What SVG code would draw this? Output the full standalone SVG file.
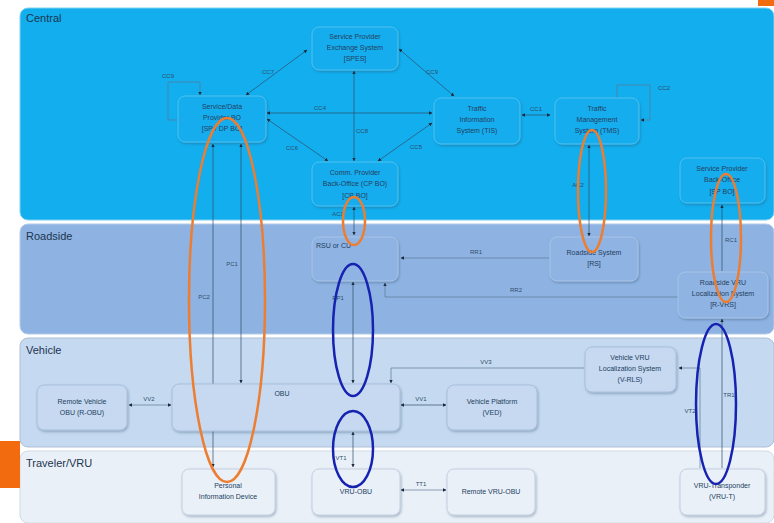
<svg xmlns="http://www.w3.org/2000/svg" width="774" height="523" viewBox="0 0 774 523">
<defs>
<marker id="ah" viewBox="0 0 6 6" refX="5.5" refY="3" markerWidth="5" markerHeight="5" orient="auto-start-reverse"><path d="M0,0 L6,3 L0,6 z" fill="#1b2a3a"/></marker>
<filter id="sh" x="-10%" y="-10%" width="125%" height="130%"><feDropShadow dx="1" dy="1.5" stdDeviation="1" flood-color="#2b4a6a" flood-opacity="0.35"/></filter>
</defs>
<style>
.band-t{font-family:"Liberation Sans",Arial,sans-serif;font-size:11px;fill:#1d3550}
.n{stroke-width:1;filter:url(#sh)}
.c .n{fill:#13adee;stroke:#4fc2f0}
.r .n{fill:#8fb3e2;stroke:#a9c4e8}
.v .n{fill:#c6d9f0;stroke:#a8bfdc}
.t .n{fill:#eaf0f8;stroke:#c3d0e1}
.nt{font-family:"Liberation Sans",Arial,sans-serif;font-size:7px;fill:#23405e;text-anchor:middle}
.cn{fill:none;stroke:#2f4d6b;stroke-width:0.7}
.cnl{fill:none;stroke:#5d7896;stroke-width:0.7}
.lb{font-family:"Liberation Sans",Arial,sans-serif;font-size:6px;fill:#2f4d6b;text-anchor:middle}
.eo{fill:none;stroke:#ed7d31;stroke-width:2.5}
.eb{fill:none;stroke:#1623b0;stroke-width:2.5}
</style>
<rect width="774" height="523" fill="#ffffff"/>
<rect x="758" y="0" width="16" height="6" fill="#f26b0f"/>
<!-- bands -->
<g id="band-central"><rect x="20" y="8" width="754" height="212" rx="8" fill="#12aeee" stroke="#7fd0f2" stroke-width="1"/><text class="band-t" x="26" y="22">Central</text></g>
<g id="band-roadside"><rect x="20" y="224" width="754" height="110" rx="8" fill="#8eb3e2" stroke="#b5cbe9" stroke-width="1"/><text class="band-t" x="26" y="240">Roadside</text></g>
<g id="band-vehicle"><rect x="20" y="338" width="754" height="109" rx="8" fill="#c5d9f0" stroke="#aebfd6" stroke-width="1"/><text class="band-t" x="26" y="354">Vehicle</text></g>
<g id="band-traveler"><rect x="20" y="451" width="754" height="72" rx="8" fill="#eaf0f8" stroke="#d0dae6" stroke-width="1"/><text class="band-t" x="26" y="467">Traveler/VRU</text></g>
<rect x="0" y="441" width="20" height="47" fill="#f26b0f"/>

<!-- connectors -->
<g id="connectors">
<path class="cn" d="M246,95 L307,50" marker-start="url(#ah)" marker-end="url(#ah)"/><text class="lb" x="268" y="74">CC7</text>
<path class="cnl" d="M178,120 L168,120 L168,82 L200,82 L200,95" marker-end="url(#ah)"/><text class="lb" x="168" y="78">CC9</text>
<path class="cn" d="M267,113 L432,113" marker-start="url(#ah)" marker-end="url(#ah)"/><text class="lb" x="320" y="110">CC4</text>
<path class="cn" d="M267,119 L328,161" marker-start="url(#ah)" marker-end="url(#ah)"/><text class="lb" x="292" y="150">CC6</text>
<path class="cn" d="M354,71 L354,161" marker-start="url(#ah)" marker-end="url(#ah)"/><text class="lb" x="362" y="133">CC8</text>
<path class="cn" d="M399,49 L454,96" marker-start="url(#ah)" marker-end="url(#ah)"/><text class="lb" x="432" y="74">CC9</text>
<path class="cn" d="M432,123 L378,161" marker-start="url(#ah)" marker-end="url(#ah)"/><text class="lb" x="416" y="149">CC5</text>
<path class="cn" d="M522,115 L550,115" marker-start="url(#ah)" marker-end="url(#ah)"/><text class="lb" x="536" y="111">CC1</text>
<path class="cnl" d="M617,98 L617,85 L650,85 L650,120 L641,120" marker-end="url(#ah)"/><text class="lb" x="664" y="90">CC2</text>
<path class="cn" d="M589,145 L589,236" marker-start="url(#ah)" marker-end="url(#ah)"/><text class="lb" x="578" y="187">AC2</text>
<path class="cn" d="M354,207 L354,235" marker-start="url(#ah)" marker-end="url(#ah)"/><text class="lb" x="338" y="216">AC1</text>
<path class="cn" d="M722,205 L722,271" marker-start="url(#ah)"/><text class="lb" x="731" y="242">RC1</text>
<path class="cnl" d="M549,258 L401,258" marker-end="url(#ah)"/><text class="lb" x="476" y="254">RR1</text>
<path class="cnl" d="M678,297 L385,297 L385,283" marker-end="url(#ah)"/><text class="lb" x="516" y="292">RR2</text>
<path class="cn" d="M241,144 L241,383" marker-start="url(#ah)" marker-end="url(#ah)"/><text class="lb" x="232" y="266">PC1</text>
<path class="cn" d="M213,144 L213,467" marker-start="url(#ah)" marker-end="url(#ah)"/><text class="lb" x="204" y="299">PC2</text>
<path class="cn" d="M353,282 L353,383" marker-start="url(#ah)" marker-end="url(#ah)"/><text class="lb" x="338" y="300">RP1</text>
<path class="cnl" d="M584,368 L391,368 L391,383" marker-end="url(#ah)"/><text class="lb" x="486" y="364">VV3</text>
<path class="cnl" d="M700,368 L679,368" marker-end="url(#ah)"/>
<path class="cnl" d="M700,368 L700,468"/><text class="lb" x="690" y="413">VT2</text>
<path class="cn" d="M722,468 L722,319" marker-end="url(#ah)"/><text class="lb" x="729" y="397">TR1</text>
<path class="cn" d="M401,405 L446,405" marker-start="url(#ah)" marker-end="url(#ah)"/><text class="lb" x="421" y="401">VV1</text>
<path class="cnl" d="M129,405 L171,405" marker-start="url(#ah)" marker-end="url(#ah)"/><text class="lb" x="149" y="401">VV2</text>
<path class="cn" d="M353,432 L353,467" marker-start="url(#ah)" marker-end="url(#ah)"/><text class="lb" x="341" y="460">VT1</text>
<path class="cnl" d="M401,490 L446,490" marker-start="url(#ah)" marker-end="url(#ah)"/><text class="lb" x="421" y="486">TT1</text>
</g>

<!-- nodes: central -->
<g class="c">
<g id="spes"><rect class="n" x="312" y="27" width="86" height="43" rx="7"/><text class="nt" x="355" y="39">Service Provider</text><text class="nt" x="355" y="50">Exchange System</text><text class="nt" x="355" y="61">[SPES]</text></g>
<g id="spdpbo"><rect class="n" x="178" y="96" width="88" height="46" rx="7"/><text class="nt" x="222" y="109">Service/Data</text><text class="nt" x="222" y="120">Provider BO</text><text class="nt" x="222" y="131">[SP / DP BO]</text></g>
<g id="tis"><rect class="n" x="434" y="98" width="86" height="46" rx="7"/><text class="nt" x="477" y="111">Traffic</text><text class="nt" x="477" y="122">Information</text><text class="nt" x="477" y="133">System (TIS)</text></g>
<g id="tms"><rect class="n" x="555" y="98" width="84" height="46" rx="7"/><text class="nt" x="597" y="111">Traffic</text><text class="nt" x="597" y="122">Management</text><text class="nt" x="597" y="133">System (TMS)</text></g>
<g id="cpbo"><rect class="n" x="312" y="162" width="86" height="44" rx="7"/><text class="nt" x="355" y="175">Comm. Provider</text><text class="nt" x="355" y="186">Back-Office (CP BO)</text><text class="nt" x="355" y="198">[CP BO]</text></g>
<g id="spbo"><rect class="n" x="680" y="158" width="85" height="45" rx="7"/><text class="nt" x="722" y="171">Service Provider</text><text class="nt" x="722" y="182">Back-Office</text><text class="nt" x="722" y="194">[SP BO]</text></g>
</g>
<!-- nodes: roadside -->
<g class="r">
<g id="rsu"><rect class="n" x="312" y="237" width="86" height="44" rx="7"/><text class="nt" x="330" y="248" style="text-anchor:start" transform="translate(-14,0)">RSU or CU</text></g>
<g id="rs"><rect class="n" x="550" y="237" width="88" height="44" rx="7"/><text class="nt" x="594" y="255">Roadside System</text><text class="nt" x="594" y="266">[RS]</text></g>
<g id="rvrs"><rect class="n" x="678" y="272" width="90" height="46" rx="7"/><text class="nt" x="723" y="285">Roadside VRU</text><text class="nt" x="723" y="296">Localization System</text><text class="nt" x="723" y="307">[R-VRS]</text></g>
</g>
<!-- nodes: vehicle -->
<g class="v">
<g id="robu"><rect class="n" x="37" y="385" width="90" height="45" rx="7"/><text class="nt" x="82" y="404">Remote Vehicle</text><text class="nt" x="82" y="415">OBU (R-OBU)</text></g>
<g id="obu"><rect class="n" x="172" y="384" width="228" height="47" rx="7"/><text class="nt" x="282" y="396">OBU</text></g>
<g id="ved"><rect class="n" x="447" y="385" width="90" height="45" rx="7"/><text class="nt" x="492" y="404">Vehicle Platform</text><text class="nt" x="492" y="415">(VED)</text></g>
<g id="vrls"><rect class="n" x="585" y="347" width="91" height="45" rx="7"/><text class="nt" x="630" y="360">Vehicle VRU</text><text class="nt" x="630" y="371">Localization System</text><text class="nt" x="630" y="382">(V-RLS)</text></g>
</g>
<!-- nodes: traveler -->
<g class="t">
<g id="pid"><rect class="n" x="182" y="469" width="93" height="46" rx="7"/><text class="nt" x="228" y="488">Personal</text><text class="nt" x="228" y="499">Information Device</text></g>
<g id="vruobu"><rect class="n" x="312" y="469" width="88" height="46" rx="7"/><text class="nt" x="356" y="494">VRU-OBU</text></g>
<g id="rvruobu"><rect class="n" x="447" y="469" width="88" height="46" rx="7"/><text class="nt" x="491" y="494">Remote VRU-OBU</text></g>
<g id="vrut"><rect class="n" x="680" y="469" width="85" height="46" rx="7"/><text class="nt" x="722" y="488">VRU-Transponder</text><text class="nt" x="722" y="499">(VRU-T)</text></g>
</g>

<!-- highlight ellipses -->
<g id="highlights">
<ellipse class="eo" cx="227" cy="300" rx="38" ry="182"/>
<ellipse class="eo" cx="354" cy="221" rx="11" ry="24"/>
<ellipse class="eo" cx="592" cy="191" rx="14" ry="61"/>
<ellipse class="eo" cx="726" cy="238" rx="15" ry="64"/>
<ellipse class="eb" cx="353" cy="330" rx="20" ry="66"/>
<ellipse class="eb" cx="353" cy="449" rx="20" ry="38"/>
<ellipse class="eb" cx="716" cy="404" rx="20" ry="80"/>
</g>
</svg>
